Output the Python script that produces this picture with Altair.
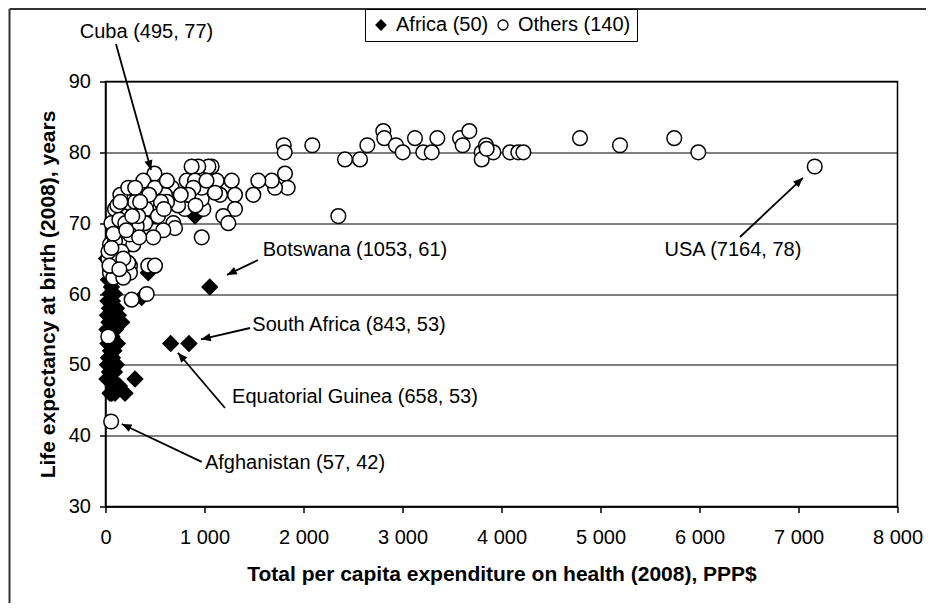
import math
import altair as alt
import pandas as pd

FONT = "Liberation Sans"

groups = ["Africa (50)", "Others (140)"]
x_title = "Total per capita expenditure on health (2008), PPP$"
y_title = "Life expectancy at birth (2008), years"
x_ticks = [0, 1000, 2000, 3000, 4000, 5000, 6000, 7000, 8000]
y_ticks = [30, 40, 50, 60, 70, 80, 90]

# Africa (diamonds)
africa_x = [1053, 843, 658, 432, 702, 904, 382, 298, 197, 96, 63, 10, 365,
            30, 60, 45, 90, 25, 70, 110, 40, 20, 80,
            130, 55, 35, 100, 15, 65, 45, 120, 25, 85,
            50, 30, 70, 110, 20, 55, 40, 90, 15, 60,
            35, 100, 140, 45, 80, 163, 65]
africa_y = [61, 53, 53, 63, 73, 71, 71, 48, 46, 46, 46, 65, 59.5,
            62, 61, 60, 60, 59, 59, 58, 58, 57, 57,
            57, 56, 56, 55, 55, 54, 53, 53, 53, 52,
            52, 51, 51, 50, 50, 50, 49, 49, 48, 48,
            48, 47, 47, 46, 47, 56, 57]

# Others (circles)
others_x = [2089, 2419, 2571, 2645, 2352, 2806, 2816, 2934, 3002, 3126, 3210, 3295, 3352, 3581, 3675,
            3608, 3800, 3843, 3800, 3918, 4086, 4170, 4221, 4793, 5197, 5745, 5988, 7164, 3850,
            1800, 1810, 1813, 1840, 1712, 1679, 1544, 1493,
            1072, 1040, 1123, 1275, 1308, 1157, 1308, 1190, 1240, 972, 988, 972, 972, 937, 870, 1106,
            820, 904, 887, 836, 803, 669, 601, 685, 702, 733, 621, 910, 760,
            495, 382, 500, 365, 366, 467, 517, 584, 483, 550, 410, 530, 432, 500, 416, 560, 440, 400, 590,
            264, 197, 230, 96, 180, 96, 163, 264, 113, 45, 230, 113, 28, 113, 247, 45, 113, 247, 264, 28,
            57, 315, 197, 281, 129, 247, 96, 230, 79, 180, 150, 300, 330, 60, 140, 200, 80, 160, 60, 90,
            30, 60, 180, 230, 300, 120, 210, 40, 140, 150, 270, 350, 620, 1020, 340]
others_y = [81, 79, 79, 81, 71, 83, 82, 81, 80, 82, 80, 80, 82, 82, 83,
            81, 80, 81, 79, 80, 80, 80, 80, 82, 81, 82, 80, 78, 80.5,
            81, 80, 77, 75, 75, 76, 76, 74,
            78, 78, 76, 76, 74, 74, 72, 71, 70, 68, 72, 73.4, 75, 78, 78, 74.3,
            76, 76, 75, 74, 72, 75, 74, 70, 69.3, 72.5, 73, 72.5, 74,
            77, 76, 75, 74, 72, 71, 71, 69, 68, 72, 72, 71, 64, 64, 60, 73, 74, 70, 72,
            74, 73.3, 72.4, 72, 71, 70, 69, 68, 68, 67, 67, 66, 65, 64.4, 64, 63, 62.5, 63, 59.2, 54,
            42, 69.6, 67, 67, 65.3, 68.4, 67.5, 64.4, 62.3, 62.3, 74, 73, 71, 70, 70.5, 70, 68.5, 66, 64, 65,
            66, 66.5, 65, 75, 75, 72.5, 69, 64, 63.5, 73, 71, 73, 76, 76, 68]

# Annotations
ann_text = ["Cuba (495, 77)", "USA (7164, 78)", "Botswana (1053, 61)",
            "South Africa (843, 53)", "Equatorial Guinea (658, 53)", "Afghanistan (57, 42)"]
ann_tx = [414, 6338, 2520, 2460, 2520, 1914]
ann_ty = [97.0, 66.2, 66.2, 55.6, 45.5, 36.2]
arr_x1 = [106, 6409, 1540, 1460, 1207, 972]
arr_y1 = [95.3, 68.05, 64.8, 55.2, 43.9, 36.3]
arr_x2 = [460, 7045, 1227, 965, 732, 164]
arr_y2 = [77.5, 76.4, 62.7, 53.6, 51.7, 41.65]

W, H = 792, 425
XMAX = 8000
YMIN, YMAX = 30, 90

df = pd.DataFrame({
    "x": africa_x + others_x,
    "y": africa_y + others_y,
    "group": [groups[0]] * len(africa_x) + [groups[1]] * len(others_x),
})

sx = W / XMAX
sy = H / (YMAX - YMIN)
angles = []
for a, b, c, d in zip(arr_x1, arr_y1, arr_x2, arr_y2):
    dx = (c - a) * sx
    dy = -(d - b) * sy
    angles.append(math.degrees(math.atan2(dx, -dy)) % 360)

ann = pd.DataFrame({
    "text": ann_text, "tx": ann_tx, "ty": ann_ty,
    "x1": arr_x1, "y1": arr_y1, "x2": arr_x2, "y2": arr_y2, "ang": angles,
})

xs = alt.Scale(domain=[0, XMAX], nice=False, zero=False)
ys = alt.Scale(domain=[YMIN, YMAX], nice=False, zero=False)

leg = alt.Legend(
    title=None, orient="none", legendX=259.5, legendY=-72.5, direction="horizontal",
    symbolStrokeColor="black", symbolStrokeWidth=1.3,
)

points = alt.Chart(df).mark_point(filled=True, strokeWidth=1.5, opacity=1).encode(
    x=alt.X("x:Q", scale=xs, title=x_title,
            axis=alt.Axis(values=x_ticks, grid=False, labelFlush=False,
                          labelExpr="replace(format(datum.value, ','), ',', ' ')")),
    y=alt.Y("y:Q", scale=ys, title=y_title,
            axis=alt.Axis(values=y_ticks, grid=True, labelFlush=False)),
    shape=alt.Shape("group:N", scale=alt.Scale(domain=groups, range=["diamond", "circle"]), legend=leg),
    fill=alt.Fill("group:N", scale=alt.Scale(domain=groups, range=["black", "white"]), legend=leg),
    stroke=alt.Stroke("group:N", scale=alt.Scale(domain=groups, range=["black", "black"]), legend=leg),
    size=alt.condition(alt.datum.group == groups[0], alt.value(235), alt.value(215)),
)

arrows = alt.Chart(ann).mark_rule(color="black", strokeWidth=1.8).encode(
    x=alt.X("x1:Q", scale=xs, title=x_title),
    y=alt.Y("y1:Q", scale=ys, title=y_title),
    x2="x2:Q",
    y2="y2:Q",
)

heads = alt.Chart(ann).mark_point(
    shape="M0,0 L-0.42,1 L0.42,1 Z", filled=True, fill="black", size=380, opacity=1
).encode(
    x=alt.X("x2:Q", scale=xs, title=x_title),
    y=alt.Y("y2:Q", scale=ys, title=y_title),
    angle=alt.Angle("ang:Q", scale=None),
)

labels = alt.Chart(ann).mark_text(font=FONT, fontSize=20, color="black",
                                  align="center", baseline="middle").encode(
    x=alt.X("tx:Q", scale=xs, title=x_title),
    y=alt.Y("ty:Q", scale=ys, title=y_title),
    text="text:N",
)

frame_left = alt.Chart(alt.Data(values=[{}])).mark_rule(color="#333333", strokeWidth=2).encode(
    x=alt.value(-96), y=alt.value(-72.5), y2=alt.value(H + 110))
frame_top = alt.Chart(alt.Data(values=[{}])).mark_rule(color="#333333", strokeWidth=2).encode(
    x=alt.value(-96), x2=alt.value(W + 60), y=alt.value(-72.5))

chart = alt.layer(points, arrows, heads, labels, frame_left, frame_top).properties(
    width=W, height=H,
    autosize=alt.AutoSizeParams(type="none"),
    padding={"left": 97.5, "top": 73.5, "right": 28.5, "bottom": 96.5},
    background="white",
).configure_view(
    stroke="black", strokeWidth=1.5
).configure_axis(
    domainColor="black", domainWidth=1.5, tickColor="black", tickWidth=1.5, tickSize=6,
    labelFont=FONT, labelFontSize=20, labelColor="black",
    titleFont=FONT, titleFontSize=21, titleFontWeight="bold", titleColor="black",
    gridColor="black", gridWidth=1, gridOpacity=1,
).configure_axisX(
    labelPadding=15, titlePadding=16
).configure_axisY(
    labelPadding=9, titlePadding=10
).configure_legend(
    strokeColor="black", strokeWidth=1, fillColor="white", padding=6,
    labelFont=FONT, labelFontSize=20, labelColor="black",
    symbolSize=100, symbolStrokeColor="black", symbolStrokeWidth=1.3,
    labelOffset=5, columnPadding=4,
)

chart.save("out.html", embed_options={"renderer": "svg", "actions": False})
